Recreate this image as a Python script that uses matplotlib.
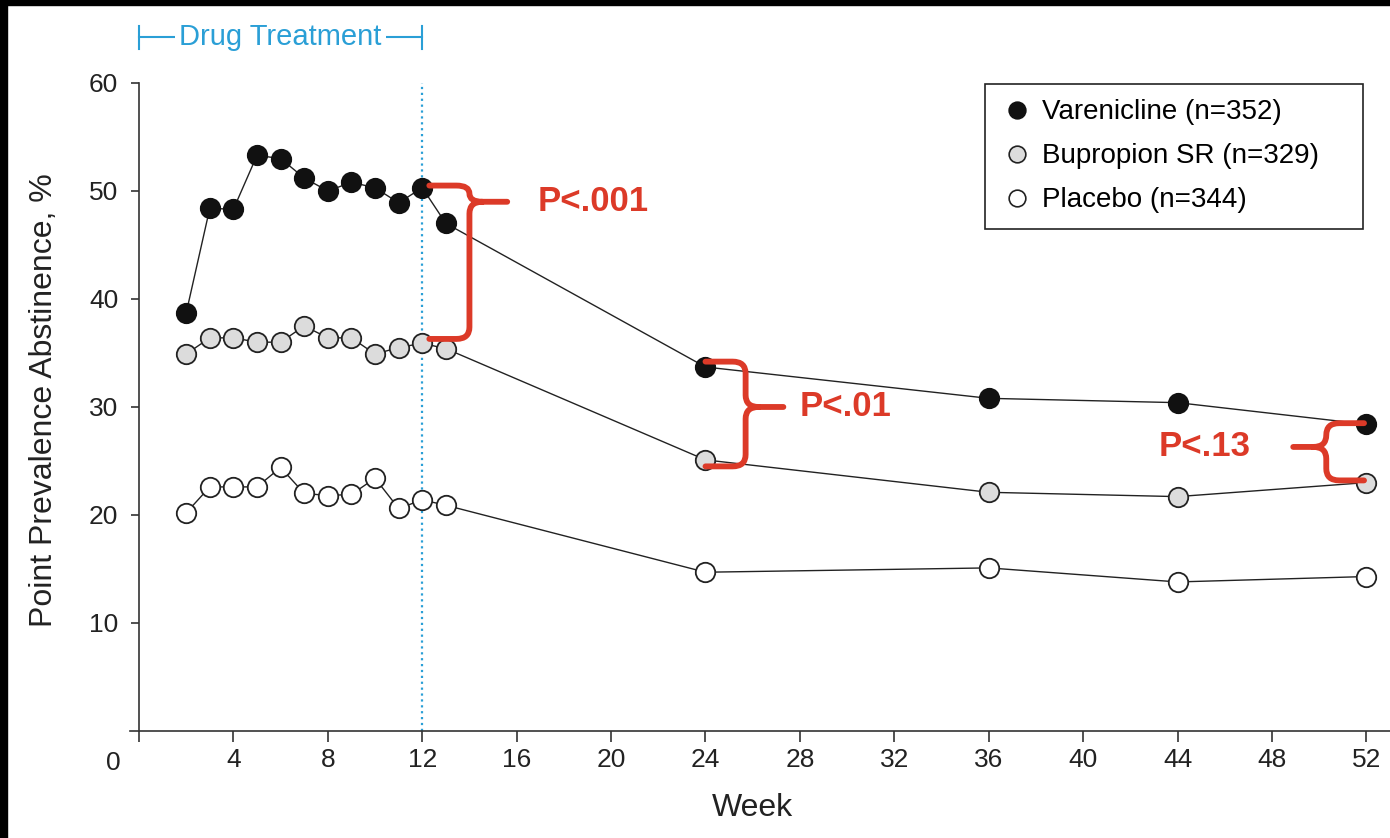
import matplotlib
matplotlib.use("Agg")
import matplotlib.pyplot as plt
from matplotlib.lines import Line2D
from matplotlib.path import Path
from matplotlib.patches import PathPatch, Rectangle

plt.rcParams["font.family"] = ["Liberation Sans", "DejaVu Sans"]

# values (point prevalence abstinence, %)
weeks = [2, 3, 4, 5, 6, 7, 8, 9, 10, 11, 12, 13, 24, 36, 44, 52]
varenicline = [38.7, 48.4, 48.3, 53.3, 53.0, 51.2, 50.0, 50.8, 50.3, 48.9, 50.3, 47.0,
               33.7, 30.8, 30.4, 28.4]
bupropion = [34.9, 36.4, 36.4, 36.0, 36.0, 37.5, 36.4, 36.4, 34.9, 35.5, 35.9, 35.4,
             25.1, 22.1, 21.7, 23.0]
placebo = [20.2, 22.6, 22.6, 22.6, 24.4, 22.0, 21.8, 21.9, 23.4, 20.6, 21.4, 20.9,
           14.7, 15.1, 13.8, 14.3]

series_labels = ["Varenicline (n=352)", "Bupropion SR (n=329)", "Placebo (n=344)"]
x_ticks = list(range(0, 53, 4))
y_ticks = [10, 20, 30, 40, 50, 60]
treatment_end = 12

# brace annotations: label, arm x, spine x, tip x, top y, tip y, bottom y, text x, text align
braces = [
    ("P<.001", 12.3, 14.0, 15.6, 50.5, 49.0, 36.3, 16.9, "left"),
    ("P<.01", 24.0, 25.7, 27.3, 34.2, 30.0, 24.5, 28.0, "left"),
    ("P<.13", 51.9, 50.3, 48.9, 28.5, 26.3, 23.2, 47.1, "right"),
]

RED = "#dc3a28"
BLUE = "#2a9fd6"
INK = "#222222"


def brace_path(xa, xs, xt, yt, ym, yb, rx=0.55, ry=1.1):
    d = 1 if xt > xs else -1
    r1 = min(ry, (yt - ym) / 2)
    r2 = min(ry, (ym - yb) / 2)
    verts = [
        (xa, yt), (xs - d * rx, yt), (xs, yt), (xs, yt - r1),
        (xs, ym + r1), (xs, ym), (xs + d * rx, ym), (xt, ym),
        (xs + d * rx, ym), (xs, ym), (xs, ym - r2),
        (xs, yb + r2), (xs, yb), (xs - d * rx, yb), (xa, yb),
    ]
    codes = [
        Path.MOVETO, Path.LINETO, Path.CURVE3, Path.CURVE3,
        Path.LINETO, Path.CURVE3, Path.CURVE3, Path.LINETO,
        Path.MOVETO, Path.CURVE3, Path.CURVE3,
        Path.LINETO, Path.CURVE3, Path.CURVE3, Path.LINETO,
    ]
    return Path(verts, codes)


fig = plt.figure(figsize=(13.9, 8.38), dpi=100)
fig.patch.set_facecolor("white")
ax = fig.add_axes([0.0932, 0.1277, 0.9068, 0.7733])
ax.set_xlim(-0.4, 53.0)
ax.set_ylim(0, 60)

# black screen-capture edges
fig.patches.append(Rectangle((0, 1 - 5 / 838), 1, 5 / 838, transform=fig.transFigure,
                             color="black", zorder=10))
fig.patches.append(Rectangle((0, 0), 7 / 1390, 1, transform=fig.transFigure,
                             color="black", zorder=10))

ax.plot([treatment_end, treatment_end], [0, 60], ls=":", color=BLUE, lw=1.6, zorder=1)

styles = [("#111111", "#111111"), ("#dcdcdc", INK), ("white", INK)]
for vals, (fc, ec), z in zip([placebo, bupropion, varenicline], styles[::-1], [3, 4, 5]):
    ax.plot(weeks, vals, "-", color=INK, lw=1.0, zorder=2)
    ax.plot(weeks, vals, "o", ms=14, mfc=fc, mec=ec, mew=1.3, zorder=z, clip_on=False)

for label, xa, xs, xt, yt, ym, yb, tx, ha in braces:
    ax.add_patch(PathPatch(brace_path(xa, xs, xt, yt, ym, yb), fill=False, ec=RED, lw=4.2,
                           capstyle="round", joinstyle="round", zorder=8, clip_on=False))
    ax.text(tx, ym, label, color=RED, fontsize=25, fontweight="bold", ha=ha, va="center",
            zorder=8)

# "Drug Treatment" bracket above the plot
y_dt = 64.25
ax.plot([0, treatment_end], [y_dt, y_dt], color=BLUE, lw=1.5, clip_on=False)
for xb in (0, treatment_end):
    ax.plot([xb, xb], [63.1, 65.3], color=BLUE, lw=1.5, clip_on=False)
ax.text(treatment_end / 2, y_dt, "Drug Treatment", color=BLUE, fontsize=21, ha="center",
        va="center", bbox=dict(boxstyle="square,pad=0.15", fc="white", ec="none"))

# axes styling
for side in ("top", "right"):
    ax.spines[side].set_visible(False)
ax.spines["left"].set_position(("data", 0))
ax.spines["left"].set_bounds(0, 60)
for side in ("left", "bottom"):
    ax.spines[side].set_color("#333333")
    ax.spines[side].set_linewidth(1.2)

ax.set_xticks(x_ticks, ["" if t == 0 else str(t) for t in x_ticks])
ax.set_yticks(y_ticks)
ax.tick_params(axis="x", length=8, width=1.2, pad=4.5, labelsize=19, colors="#333333",
               labelcolor="#222222")
ax.tick_params(axis="y", length=6, width=1.2, pad=9, labelsize=19, colors="#333333",
               labelcolor="#222222")
ax.annotate("0", xy=(0, 0), xytext=(-26, -32), textcoords="offset pixels",
            ha="center", va="center", fontsize=19, color="#222222", annotation_clip=False)

ax.set_xlabel("Week", fontsize=23, color="#222222", va="center")
ax.xaxis.set_label_coords(0.494, -0.119)
ax.set_ylabel("Point Prevalence Abstinence, %", fontsize=23, color="#222222", va="center")
ax.yaxis.set_label_coords(-0.068, 0.51)

handles = [Line2D([], [], ls="none", marker="o", ms=12, mfc=fc, mec=ec, mew=1.2)
           for fc, ec in styles]
x0, x1 = 985 / 1390, 1363 / 1390
y0, y1 = (838 - 247) / 838, (838 - 84) / 838
leg = ax.legend(handles, series_labels, loc="upper left",
                bbox_to_anchor=(x0, y0, x1 - x0, y1 - y0), bbox_transform=fig.transFigure,
                mode="expand", fontsize=20, frameon=True, fancybox=False,
                edgecolor="#222222", framealpha=1, borderpad=0.55, labelspacing=0.65,
                handlelength=1.2, handletextpad=0.3, borderaxespad=0)
leg.get_frame().set_linewidth(1.2)

fig.savefig("out.png", dpi=100)
